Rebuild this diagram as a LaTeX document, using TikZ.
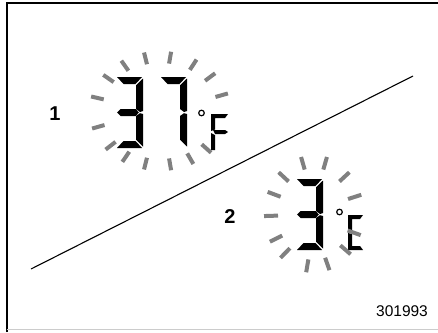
\documentclass[tikz,border=0pt]{standalone}
\usepackage{fontspec}
\setmainfont{Liberation Sans}
\tikzset{
  seg/.style={fill=black},
  ray/.style={draw=black!50, line width=4pt},
  lbl/.style={font=\fontsize{20}{20}\selectfont\bfseries, inner sep=0pt},
  % segments of one digit, 27 wide, 71 high, origin top left
  pics/segA/.style={code={\fill[seg] (1,0) -- (26,0) -- (19.5,7) -- (7.5,7) -- cycle;}},
  pics/segB/.style={code={\fill[seg] (27,1.5) -- (27,34) -- (24,35) -- (20,32) -- (20,8.4) -- cycle;}},
  pics/segC/.style={code={\fill[seg] (27,37) -- (27,69.5) -- (20,62.6) -- (20,39) -- (24,36.2) -- cycle;}},
  pics/segD/.style={code={\fill[seg] (1,71) -- (26,71) -- (19.5,64) -- (7.5,64) -- cycle;}},
  pics/segG/.style={code={\fill[seg] (1,35.5) -- (4.5,32) -- (19.8,32) -- (22.8,35.5) -- (19.8,39) -- (4.5,39) -- cycle;}}
}
\begin{document}
\begin{tikzpicture}[x=1pt, y=-1pt, line cap=butt]
  \useasboundingbox (0,0) rectangle (438,332);
  % frame
  \draw[line width=2pt] (6.5,332) -- (6.5,3) -- (438,3);
  \draw[black!20, line width=1pt] (6.5,329.5) -- (438,329.5);
  % dividing line
  \coordinate (LA) at (31,269);
  \coordinate (LB) at (413,76);
  \draw[line width=1.1pt] (LA) -- (LB);

  % (1) 37 F
  \node[lbl] (n1) at (55,114) {1};
  \pic at (116,77) {segA}; \pic at (116,77) {segB}; \pic at (116,77) {segC};
  \pic at (116,77) {segD}; \pic at (116,77) {segG};
  \pic at (160,77) {segA}; \pic at (160,77) {segB}; \pic at (160,77) {segC};
  \draw[line width=1.2pt] (201.5,113) circle (2.8);
  \fill[seg] (211,114) -- (228,114) -- (225,118) -- (215,118) -- (215,129.5) -- (211,131) -- cycle;
  \fill[seg] (213,130) -- (225,130) -- (228,132) -- (225,134) -- (215,134) -- cycle;
  \fill[seg] (211,133) -- (215,135) -- (215,150) -- (211,150) -- cycle;
  \foreach \a in {17,39,59,81,103,123,143,166,197,220,238,257,279,298,316}
    \draw[ray] ({160+58*cos(\a)},{111-48*sin(\a)}) -- ({160+71*cos(\a)},{111-60*sin(\a)});

  % (2) 3 C
  \node[lbl] (n2) at (230,217) {2};
  \pic at (296,179) {segA}; \pic at (296,179) {segB}; \pic at (296,179) {segC};
  \pic at (296,179) {segD}; \pic at (296,179) {segG};
  \draw[line width=1.2pt] (339.5,212) circle (2.8);
  \fill[seg] (348,215) -- (363,215) -- (360,219) -- (352,219) -- (352,231) -- (348,232) -- cycle;
  \fill[seg] (348,233) -- (352,234) -- (352,246) -- (360,246) -- (363,250) -- (348,250) -- cycle;
  \foreach \a in {19,45,75,105,135,158,182,208,228,261,288,317,339}
    \draw[ray] ({314+36*cos(\a)},{214-46*sin(\a)}) -- ({314+50*cos(\a)},{214-59*sin(\a)});

  \node[font=\fontsize{15.5}{15.5}\selectfont, inner sep=0pt] (num) at (402,311) {301993};
\end{tikzpicture}
\end{document}
